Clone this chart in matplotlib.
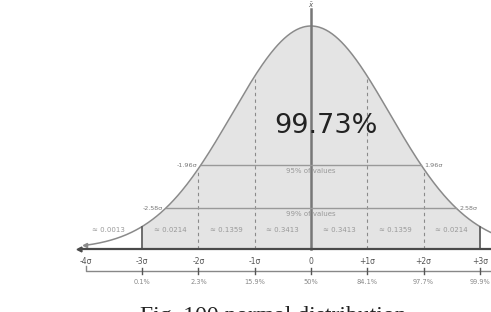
import numpy as np
import matplotlib.pyplot as plt

# sigma positions and labels
sigmas = [-4, -3, -2, -1, 0, 1, 2, 3]
sigma_labels = ['-4σ', '-3σ', '-2σ', '-1σ', '0', '+1σ', '+2σ', '+3σ']
cum_pos = [-3, -2, -1, 0, 1, 2, 3]
cum_labels = ['0.1%', '2.3%', '15.9%', '50%', '84.1%', '97.7%', '99.9%']
band_pos = [-3.6, -2.5, -1.5, -0.5, 0.5, 1.5, 2.5]
band_labels = ['≈ 0.0013', '≈ 0.0214', '≈ 0.1359', '≈ 0.3413',
               '≈ 0.3413', '≈ 0.1359', '≈ 0.0214']
intervals = [1.96, 2.58]
interval_labels = ['95% of values', '99% of values']
curve_width = 1.4  # drawn curve is a stretched bell

def bell(x):
    return np.exp(-np.asarray(x) ** 2 / (2 * curve_width ** 2))

fig = plt.figure(figsize=(4.91, 3.12), dpi=100)
ax = fig.add_axes([0, 0, 1, 1])
ax.set_xlim(-311 / 56.3, 180 / 56.3)
ax.set_ylim(-63 / 223, 249 / 223)
ax.axis('off')

x = np.linspace(-4.0, 3.4, 400)
xf = np.linspace(-3, 3, 300)
ax.fill_between(xf, 0, bell(xf), color='#e4e4e4', lw=0)
ax.plot(x, bell(x), color='#8a8a8a', lw=1.1)
ax.plot([-4.02], [bell(-4.0)], marker='<', color='#8a8a8a', ms=3)

# verticals
for s in [-2, -1, 1, 2]:
    ax.plot([s, s], [0, bell(s)], color='#8a8a8a', lw=0.8, ls=(0, (3, 3)))
for s in [-3, 3]:
    ax.plot([s, s], [0, bell(s)], color='#555555', lw=1.2)
ax.plot([0, 0], [0, 1.075], color='#777777', lw=1.8)
ax.text(0, 1.095, r'$\bar{x}$', ha='center', va='center', fontsize=5, color='#555555')

# interval lines
for z, lab in zip(intervals, interval_labels):
    h = bell(z)
    ax.plot([-z, z], [h, h], color='#999999', lw=1.0)
    ax.text(-z - 0.05, h, '-%.2fσ' % z, ha='right', va='center', fontsize=4.6, color='#777777')
    ax.text(z + 0.05, h, '%.2fσ' % z, ha='left', va='center', fontsize=4.6, color='#777777')
    ax.text(0, h - 0.012, lab, ha='center', va='top', fontsize=5, color='#999999')

for p, lab in zip(band_pos, band_labels):
    ax.text(p, 0.085, lab, ha='center', va='center', fontsize=5, color='#999999')

ax.text(0.27, 0.55, '99.73%', ha='center', va='center', fontsize=19.5, color='#222222')

# main axis
ax.plot([-4.1, 3.3], [0, 0], color='#4a4a4a', lw=1.6)
ax.plot([-4.12], [0], marker='<', color='#4a4a4a', ms=3.5)
for s, lab in zip(sigmas, sigma_labels):
    ax.text(s, -0.058, lab, ha='center', va='center', fontsize=5.5, color='#555555')

# cumulative axis
ax.plot([-4, -4, 3.3], [-0.075, -0.099, -0.099], color='#888888', lw=1.0)
for p, lab in zip(cum_pos, cum_labels):
    ax.plot([p, p], [-0.087, -0.111], color='#555555', lw=1.0)
    ax.text(p, -0.148, lab, ha='center', va='center', fontsize=4.8, color='#888888')

fig.text(140 / 491, 6 / 312, 'Fig. 100 normal distribution', ha='left', va='top',
         fontsize=17, family='Liberation Serif', color='#222222')

fig.savefig('out.png', dpi=100)
